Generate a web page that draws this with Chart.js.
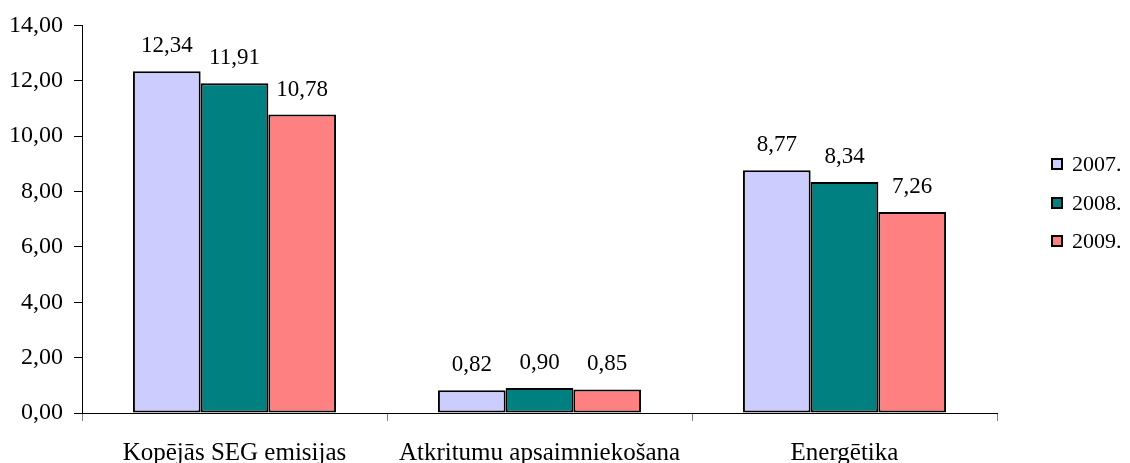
<!DOCTYPE html>
<html>
<head>
<meta charset="utf-8">
<script src="https://cdn.jsdelivr.net/npm/chart.js@4/dist/chart.umd.min.js"></script>
<style>
  html, body { margin: 0; padding: 0; background: #fff; }
  #wrap { width: 1130px; height: 463px; }
</style>
</head>
<body>
<div id="wrap"><canvas id="c" width="1130" height="463"></canvas></div>
<script>
// Sector emissions by year
const categories = ['Kopējās SEG emisijas', 'Atkritumu apsaimniekošana', 'Energētika'];
const years = ['2007.', '2008.', '2009.'];
const values2007 = [12.34, 0.82, 8.77];
const values2008 = [11.91, 0.90, 8.34];
const values2009 = [10.78, 0.85, 7.26];
const yTicks = [0, 2, 4, 6, 8, 10, 12, 14];

const colors = ['#CCCCFF', '#008080', '#FF8080'];
const FONT = '"Liberation Serif", "Times New Roman", serif';

const fmt = v => v.toFixed(2).replace('.', ',');

// Value labels above each bar
const valueLabels = {
  id: 'valueLabels',
  afterDatasetsDraw(chart) {
    const ctx = chart.ctx;
    ctx.save();
    ctx.font = '23px ' + FONT;
    ctx.fillStyle = '#000';
    ctx.textAlign = 'center';
    ctx.textBaseline = 'alphabetic';
    chart.data.datasets.forEach((ds, i) => {
      const meta = chart.getDatasetMeta(i);
      meta.data.forEach((bar, j) => {
        ctx.fillText(fmt(ds.data[j]), bar.x, bar.y - 19);
      });
    });
    ctx.restore();
  }
};

// Legend drawn at the right side of the plot
const sideLegend = {
  id: 'sideLegend',
  afterDraw(chart) {
    const ctx = chart.ctx;
    ctx.save();
    ctx.font = '22px ' + FONT;
    ctx.textBaseline = 'middle';
    ctx.textAlign = 'left';
    const rows = [164, 203, 241];
    chart.data.datasets.forEach((ds, i) => {
      const cy = rows[i];
      ctx.fillStyle = ds.backgroundColor;
      ctx.fillRect(1052, cy - 5, 10, 10);
      ctx.strokeStyle = '#000';
      ctx.lineWidth = 2;
      ctx.strokeRect(1052, cy - 5, 10, 10);
      ctx.fillStyle = '#000';
      ctx.fillText(ds.label, 1072, cy + 1);
    });
    ctx.restore();
  }
};

const datasets = [values2007, values2008, values2009].map((vals, i) => ({
  label: years[i],
  data: vals,
  backgroundColor: colors[i],
  borderColor: '#000',
  borderWidth: 2,
  borderSkipped: false,
  categoryPercentage: 0.666,
  barPercentage: 1.0
}));

new Chart(document.getElementById('c'), {
  type: 'bar',
  data: { labels: categories, datasets },
  plugins: [valueLabels, sideLegend],
  options: {
    responsive: false,
    animation: false,
    layout: { padding: { left: 0, right: 133, top: 22, bottom: 0 } },
    plugins: {
      legend: { display: false },
      tooltip: { enabled: false }
    },
    scales: {
      x: {
        offset: true,
        grid: {
          offset: true,
          drawOnChartArea: false,
          drawTicks: true,
          tickLength: 8,
          color: '#808080',
          lineWidth: 1
        },
        border: { display: true, color: '#000', width: 1 },
        ticks: {
          font: { family: FONT, size: 25 },
          color: '#000',
          padding: 17,
          maxRotation: 0,
          autoSkip: false
        },
        afterFit(scale) { scale.height = 50; }
      },
      y: {
        min: 0,
        max: 14,
        afterBuildTicks(scale) { scale.ticks = yTicks.map(v => ({ value: v })); },
        grid: {
          drawOnChartArea: false,
          drawTicks: true,
          tickLength: 8,
          color: '#000',
          lineWidth: 1
        },
        border: { display: true, color: '#000', width: 1 },
        ticks: {
          font: { family: FONT, size: 24 },
          color: '#000',
          padding: 11,
          callback: v => fmt(v)
        },
        afterFit(scale) { scale.width = 82; }
      }
    }
  }
});
</script>
</body>
</html>
